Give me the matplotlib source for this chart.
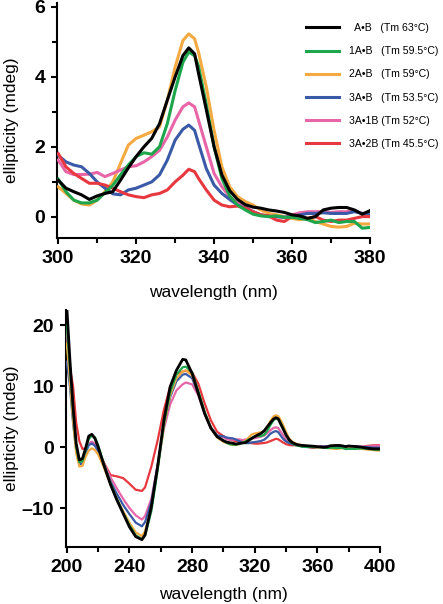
import matplotlib
matplotlib.use("Agg")
import matplotlib.pyplot as plt
from matplotlib.ticker import MultipleLocator

plt.rcParams['font.family'] = ['Liberation Sans', 'DejaVu Sans']

# ---------------- data ----------------
labels = ["  A\u2022B   (Tm 63\u00b0C)", "1A\u2022B   (Tm 59.5\u00b0C)", "2A\u2022B   (Tm 59\u00b0C)",
          "3A\u2022B   (Tm 53.5\u00b0C)", "3A\u20221B (Tm 52\u00b0C)", "3A\u20222B (Tm 45.5\u00b0C)"]
colors = ["#000000", "#1ea64c", "#f5a941", "#3a5aa8", "#e866a8", "#e8383f"]

wl_top = [300, 302, 304, 306, 308, 310, 312, 314, 316, 318, 320, 322, 324, 326, 328, 330, 332, 333.5,
          335, 336, 338, 340, 342, 344, 346, 348, 350, 352, 354, 356, 358, 360, 362, 364, 366, 368,
          370, 372, 374, 376, 378, 380]

top_AB = [1.05, 0.82, 0.72, 0.63, 0.5, 0.6, 0.67, 0.72, 1.05, 1.4, 1.72, 2.0, 2.24, 2.66, 3.33, 3.99,
          4.6, 4.82, 4.65, 4.1, 3.06, 2.0, 1.2, 0.75, 0.5, 0.35, 0.28, 0.25, 0.2, 0.17, 0.13, 0.06,
          0.03, -0.04, 0.01, 0.2, 0.25, 0.27, 0.27, 0.2, 0.08, 0.18]
top_1AB = [1.08, 0.72, 0.48, 0.4, 0.4, 0.48, 0.69, 0.9, 1.2, 1.48, 1.72, 1.83, 1.79, 2.0, 2.66, 3.6,
           4.41, 4.7, 4.6, 4.3, 3.2, 2.0, 1.1, 0.6, 0.34, 0.2, 0.08, 0.03, 0.01, 0.03, -0.01, -0.01,
           -0.04, -0.08, -0.16, -0.13, -0.09, -0.16, -0.13, -0.13, -0.32, -0.3]
top_2AB = [0.86, 0.67, 0.48, 0.37, 0.34, 0.48, 0.72, 1.0, 1.53, 2.05, 2.24, 2.33, 2.43, 2.57, 3.33, 4.27,
           5.03, 5.22, 5.08, 4.7, 3.71, 2.47, 1.43, 0.86, 0.58, 0.44, 0.34, 0.2, 0.1, 0.06, 0.01, -0.04,
           -0.08, -0.04, -0.13, -0.2, -0.27, -0.29, -0.27, -0.18, -0.2, -0.2]
top_3AB = [1.76, 1.57, 1.48, 1.43, 1.24, 1.0, 0.82, 0.66, 0.63, 0.77, 0.82, 0.91, 1.0, 1.2, 1.62, 2.19,
           2.5, 2.62, 2.47, 2.1, 1.38, 0.91, 0.67, 0.5, 0.34, 0.25, 0.15, 0.06, 0.01, 0.01, -0.01, 0.01,
           0.06, 0.1, 0.1, 0.12, 0.1, 0.1, 0.1, 0.15, 0.1, 0.1]
top_3A1B = [1.62, 1.29, 1.21, 1.21, 1.22, 1.27, 1.15, 1.24, 1.34, 1.43, 1.46, 1.57, 1.72, 1.9, 2.28, 2.76,
            3.14, 3.25, 3.14, 2.76, 2.0, 1.24, 0.86, 0.58, 0.39, 0.29, 0.15, 0.06, 0.03, 0.01, -0.01, 0.06,
            0.12, 0.15, 0.15, 0.15, 0.13, 0.15, 0.15, 0.18, 0.1, 0.06]
top_3A2B = [1.81, 1.43, 1.24, 1.1, 0.96, 0.96, 0.91, 0.82, 0.72, 0.63, 0.58, 0.55, 0.63, 0.67, 0.77, 1.0,
            1.19, 1.36, 1.29, 1.1, 0.77, 0.48, 0.34, 0.29, 0.31, 0.25, 0.15, 0.06, 0.03, -0.09, -0.13, 0.01,
            -0.04, -0.04, 0.01, -0.09, -0.13, -0.09, -0.09, -0.04, 0.01, 0.01]

# bottom panel: 200-296 nm + 300-380 (upper panel) + 384-400 tail
wl_low = [200, 202, 204, 206, 208, 210, 212, 214, 216, 218, 220, 224, 228, 232, 236, 240, 244, 248,
          250, 254, 258, 262, 266, 270, 274, 276, 280, 284, 288, 292, 296]
wl_tail = [384, 388, 392, 396, 400]

low_AB = [23.0, 14.3, 6.6, 0.6, -2.1, -1.9, -0.2, 1.8, 2.1, 1.4, 0.05, -3.2, -6.2, -8.7, -10.9, -13.1,
          -14.7, -15.2, -14.4, -9.8, -3.2, 4.4, 9.9, 12.6, 14.4, 14.3, 12.1, 8.8, 5.5, 3.1, 1.7]
low_1AB = [20, 13, 6, 0, -2.5, -2.3, -0.5, 1.3, 1.9, 1.6, 0.3, -3.0, -6.0, -8.5, -10.8, -12.8, -14.5,
           -15.1, -14.5, -10.5, -3.8, 3.8, 9.0, 11.9, 13.1, 13.2, 12.3, 9.2, 5.8, 3.2, 1.7]
low_2AB = [17, 11, 4.5, -1, -3.2, -3.1, -1.6, -0.6, -0.2, -0.5, -1.2, -3.5, -6.2, -8.5, -10.5, -12.4,
           -14.0, -14.6, -13.8, -10.0, -3.5, 3.5, 8.5, 11.3, 12.4, 12.6, 11.8, 9.0, 5.7, 3.1, 1.6]
low_3AB = [14, 10, 4, -0.5, -2.8, -2.7, -1.0, 0.3, 0.6, 0.2, -0.7, -3.1, -5.7, -7.7, -9.5, -11.0, -12.4,
           -13.0, -12.3, -9.0, -3.0, 3.5, 8.2, 10.8, 11.9, 12.0, 11.3, 8.8, 5.6, 3.2, 1.9]
low_3A1B = [19, 12, 5, 0, -2.3, -2.0, -0.5, 0.6, 0.9, 0.5, -0.5, -2.8, -5.0, -6.8, -8.5, -10.0, -11.2,
            -11.9, -11.3, -8.5, -3.0, 3.0, 7.0, 9.3, 10.3, 10.6, 10.3, 8.5, 5.5, 3.2, 1.8]
low_3A2B = [19, 13, 10, 4, 1, -0.3, -0.2, 0.6, 0.7, 0.5, -0.5, -2.7, -4.6, -4.8, -5.1, -6.0, -7.0,
            -7.2, -6.6, -3.2, 1.1, 6.1, 9.9, 12.0, 12.4, 12.5, 12.3, 10.4, 7.2, 4.4, 2.5]

tail_AB = [0.1, 0.0, -0.2, -0.3, -0.3]
tail_1AB = [-0.3, -0.2, -0.3, -0.4, -0.4]
tail_2AB = [-0.2, -0.3, -0.4, -0.5, -0.6]
tail_3AB = [0.1, 0.0, 0.0, -0.1, -0.1]
tail_3A1B = [0.1, 0.1, 0.1, 0.2, 0.2]
tail_3A2B = [0.0, 0.0, 0.2, 0.3, 0.3]

top_series = [top_AB, top_1AB, top_2AB, top_3AB, top_3A1B, top_3A2B]
low_series = [low_AB, low_1AB, low_2AB, low_3AB, low_3A1B, low_3A2B]
tail_series = [tail_AB, tail_1AB, tail_2AB, tail_3AB, tail_3A1B, tail_3A2B]

# ---------------- figure ----------------
W, H = 443, 604
fig = plt.figure(figsize=(W / 100, H / 100), dpi=100)

def axes_px(l, t, r, b):
    return fig.add_axes([l / W, 1 - b / H, (r - l) / W, (b - t) / H])

ax1 = axes_px(57, 3, 370, 238)
ax2 = axes_px(66, 310, 380, 547)

draw_order = [2, 4, 3, 5, 1, 0]

for i in draw_order:
    ax1.plot(wl_top, top_series[i], color=colors[i], lw=2.2, solid_joinstyle='round',
             zorder=3 + (1 if i == 0 else 0))
handles = []
for i in range(6):
    h, = ax1.plot([], [], color=colors[i], lw=2.2)
    handles.append(h)

for i in [5, 4, 3, 2, 1, 0]:
    wl_full = wl_low + wl_top + wl_tail
    y_full = low_series[i] + top_series[i] + tail_series[i]
    ax2.plot(wl_full, y_full, color=colors[i], lw=2.0 if i == 0 else 1.6, zorder=3)

ax1.set_xlim(299.7, 380)
ax1.set_ylim(-0.6, 6.1)
ax1.xaxis.set_major_locator(MultipleLocator(20))
ax1.xaxis.set_minor_locator(MultipleLocator(10))
ax1.yaxis.set_major_locator(MultipleLocator(2))
ax1.yaxis.set_minor_locator(MultipleLocator(1))

ax2.set_xlim(199.5, 400)
ax2.set_ylim(-16.4, 22.5)
ax2.xaxis.set_major_locator(MultipleLocator(40))
ax2.xaxis.set_minor_locator(MultipleLocator(20))
ax2.yaxis.set_major_locator(MultipleLocator(10))

for ax in (ax1, ax2):
    for s in ('top', 'right'):
        ax.spines[s].set_visible(False)
    for s in ('left', 'bottom'):
        ax.spines[s].set_linewidth(1.5)
    ax.tick_params(which='major', direction='out', length=4.5, width=1.5, pad=4,
                   labelsize=14)
    ax.tick_params(which='minor', direction='out', length=3.5, width=1.5)
    for lab in ax.get_xticklabels() + ax.get_yticklabels():
        lab.set_fontweight('bold')
    ax.set_xlabel("wavelength (nm)", fontsize=12.5, labelpad=5)
    ax.set_ylabel("ellipticity (mdeg)", fontsize=12.5, labelpad=6)

ax2.set_yticks([-10, 0, 10, 20])
ax2.set_yticklabels(["\u201310", "0", "10", "20"], fontweight='bold', fontsize=14)

ax1.xaxis.set_label_coords(0.5, -0.2)
ax2.xaxis.set_label_coords(0.5, -0.17)
ax1.yaxis.set_label_coords((19 - 57) / 313, 0.5)
ax2.yaxis.set_label_coords((19 - 66) / 314, 0.5)

fig.legend(handles, labels, loc='upper left', bbox_to_anchor=(306 / W, 1 - 23 / H),
           frameon=False, fontsize=7.6, handlelength=3.1, handletextpad=0.95,
           labelspacing=1.25, borderaxespad=0, borderpad=0)

fig.savefig("out.png", dpi=100)
